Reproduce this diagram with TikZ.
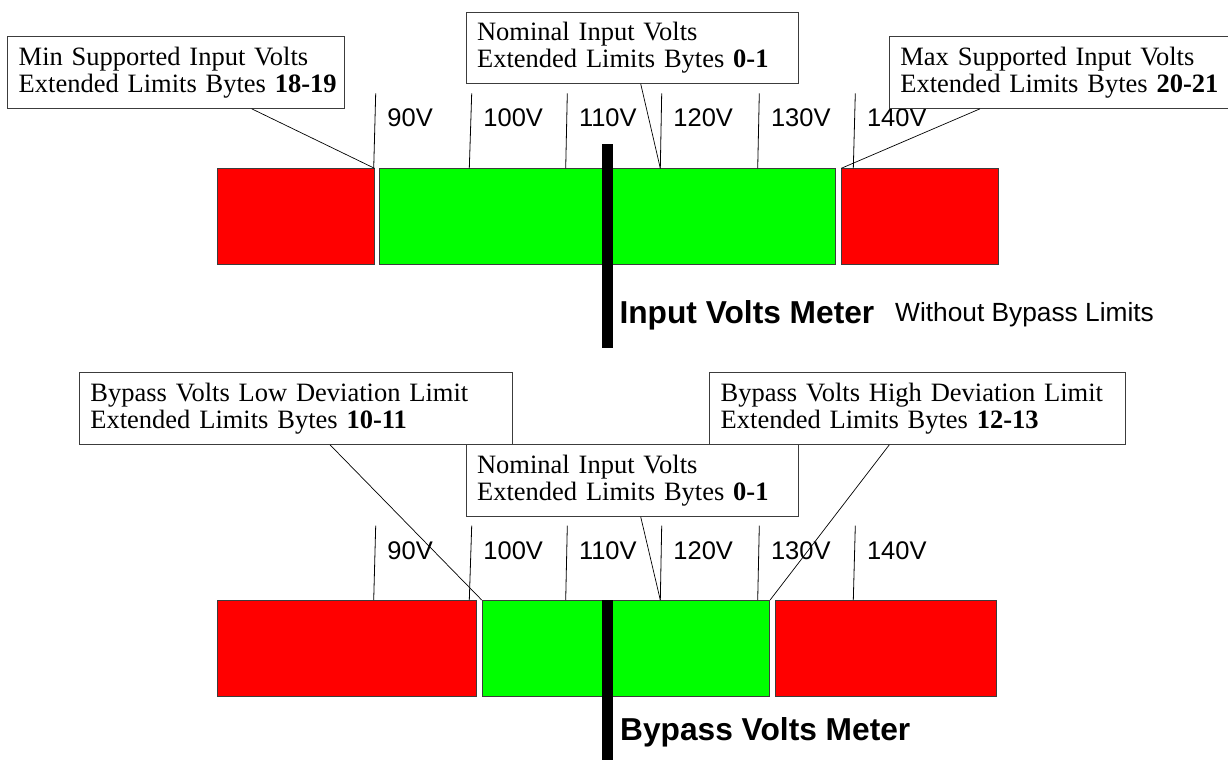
\documentclass[tikz,border=0pt]{standalone}
\usepackage{fontspec}
\setmainfont{Liberation Serif}
\setsansfont{Liberation Sans}
\definecolor{zred}{RGB}{255,0,0}
\definecolor{zgreen}{RGB}{0,255,0}
\definecolor{frame}{RGB}{60,60,60}
\begin{document}
\begin{tikzpicture}[x=1pt,y=-1pt]
\useasboundingbox (0,0) rectangle (1228,760);
\tikzset{
  infobox/.style={draw=frame, line width=0.8pt, fill=white, anchor=north west,
    inner xsep=11pt, inner ysep=0pt, align=left,
    font=\fontsize{26.5}{26.7}\selectfont},
  zone/.style={draw=frame, line width=0.8pt, anchor=north west, inner sep=0pt},
  tick/.style={draw=black, line width=0.8pt},
  link/.style={draw=black, line width=0.7pt},
  vlabel/.style={anchor=base west, inner sep=0pt, font=\sffamily\fontsize{25.5}{30}\selectfont},
  meterbar/.style={draw=black, line width=10.5pt},
  metertitle/.style={anchor=base west, inner sep=0pt, font=\sffamily\bfseries\fontsize{31.7}{38}\selectfont},
  metersub/.style={anchor=base west, inner sep=0pt, font=\sffamily\fontsize{26.3}{32}\selectfont}
}

% ---------------- upper meter ----------------
\node[zone, fill=zred, minimum width=156.4pt, minimum height=95.7pt] (ur1) at (217.3,168.3) {};
\node[zone, fill=zgreen, minimum width=456pt, minimum height=95.7pt] (ug) at (379.3,168.3) {};
\node[zone, fill=zred, minimum width=156.4pt, minimum height=95.7pt] (ur2) at (841.3,168.3) {};

\foreach \v/\a/\b [count=\i] in {90/375.7/373.7, 100/471.7/469.3, 110/567.3/565.7,
    120/661.7/660.3, 130/759.3/757.7, 140/855.3/853.3} {
  \coordinate (uta\i) at (\a,93.3);
  \coordinate (utb\i) at (\b,168.3);
  \draw[tick] (uta\i) -- (utb\i);
  \node[vlabel] (ulab\i) at (\a+11.5,126.7) {\v V};
}

\node[infobox, text width=314.7pt, minimum height=72pt] (minbox) at (7.3,36)
  {\mbox{Min Supported Input Volts}\\\mbox{Extended Limits Bytes \textbf{18-19}}};
\node[infobox, text width=310pt, minimum height=71pt] (nomtop) at (465.7,12)
  {\mbox{Nominal Input Volts}\\\mbox{Extended Limits Bytes \textbf{0-1}}};
\node[infobox, text width=316.5pt, minimum height=72pt] (maxbox) at (889,36)
  {\mbox{Max Supported Input Volts}\\\mbox{Extended Limits Bytes \textbf{20-21}}};

\draw[link] ([xshift=244.4pt]minbox.south west) -- (ur1.north east);
\draw[link] ([xshift=175pt]nomtop.south west) -- (utb4);
\draw[link] ([xshift=91pt]maxbox.south west) -- (ur2.north west);

\coordinate (ubartop) at (607.5,144);
\coordinate (ubarbot) at (607.5,348);
\draw[meterbar] (ubartop) -- (ubarbot);
\node[metertitle] (utitle) at (619.3,323.3) {Input Volts Meter};
\node[metersub] (usub) at (895,321) {Without Bypass Limits};

% ---------------- lower meter ----------------
\node[zone, fill=zred, minimum width=258.4pt, minimum height=95.7pt] (dr1) at (217.3,600) {};
\node[zone, fill=zgreen, minimum width=287.6pt, minimum height=95.7pt] (dg) at (481.7,600) {};
\node[zone, fill=zred, minimum width=221pt, minimum height=95.7pt] (dr2) at (774.7,600) {};

\foreach \v/\a/\b [count=\i] in {90/375.7/373.7, 100/471.7/469.3, 110/567.3/565.7,
    120/661.7/660.3, 130/759.3/757.7, 140/855.3/853.3} {
  \coordinate (dta\i) at (\a,525.7);
  \coordinate (dtb\i) at (\b,600);
  \draw[tick] (dta\i) -- (dtb\i);
  \node[vlabel] (dlab\i) at (\a+11.5,559.5) {\v V};
}

\node[infobox, text width=410.7pt, minimum height=72pt] (lowbox) at (79,372)
  {\mbox{Bypass Volts Low Deviation Limit}\\\mbox{Extended Limits Bytes \textbf{10-11}}};
\node[infobox, text width=394pt, minimum height=72pt] (highbox) at (709.3,372)
  {\mbox{Bypass Volts High Deviation Limit}\\\mbox{Extended Limits Bytes \textbf{12-13}}};
\node[infobox, text width=310pt, minimum height=71.7pt] (nombot) at (465.7,444.3)
  {\mbox{Nominal Input Volts}\\\mbox{Extended Limits Bytes \textbf{0-1}}};

\draw[link] ([xshift=251pt]lowbox.south west) -- (dg.north west);
\draw[link] ([xshift=175pt]nombot.south west) -- (dtb4);
\draw[link] ([xshift=180pt]highbox.south west) -- (dg.north east);

\coordinate (dbartop) at (607.5,600);
\coordinate (dbarbot) at (607.5,760);
\draw[meterbar] (dbartop) -- (dbarbot);
\node[metertitle] (dtitle) at (620,740) {Bypass Volts Meter};
\end{tikzpicture}
\end{document}
